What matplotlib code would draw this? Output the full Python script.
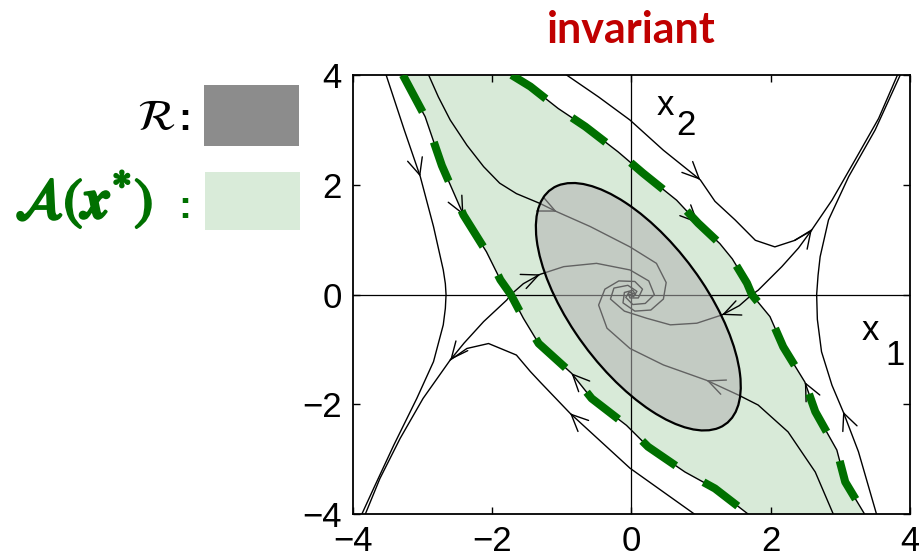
import numpy as np
import matplotlib
matplotlib.use('Agg')
import matplotlib.pyplot as plt
from matplotlib.patches import Ellipse, Rectangle
import matplotlib.patheffects as pe

plt.rcParams['font.family'] = ['Liberation Sans', 'DejaVu Sans']

# trajectories, ordered along the flow
L = [(-3.52, 4.0), (-3.26, 3.0), (-3.03, 2.15), (-2.84, 1.24), (-2.70, 0.45), (-2.67, 0.2), (-2.66, 0.0),
     (-2.67, -0.25), (-2.70, -0.55), (-2.84, -1.22), (-3.08, -1.89), (-3.41, -2.74), (-3.70, -3.53), (-3.87, -4.0)]
R = [(3.52, -4.0), (3.26, -2.86), (3.04, -2.13), (2.88, -1.65), (2.73, -1.04), (2.67, -0.45), (2.66, 0.0),
     (2.68, 0.35), (2.71, 0.69), (2.83, 1.36), (3.12, 2.15), (3.50, 3.0), (3.86, 4.0)]
U = [(-0.93, 4.0), (-0.47, 3.6), (-0.02, 3.18), (0.46, 2.63), (0.99, 2.09), (1.20, 1.70), (1.49, 1.36),
     (1.78, 0.99), (2.06, 0.87), (2.35, 0.99), (2.59, 1.18), (2.88, 1.72), (3.21, 2.45), (3.55, 3.21), (3.82, 4.0)]
U2 = [(0.91, -4.0), (-0.02, -3.16), (-0.88, -2.16), (-1.31, -1.59), (-1.45, -1.40), (-1.65, -1.10),
      (-2.05, -0.89), (-2.36, -0.98), (-2.60, -1.19), (-2.99, -1.89), (-3.32, -2.62), (-3.61, -3.35), (-3.82, -4.0)]
A = [(-2.91, 4.0), (-2.77, 3.6), (-2.60, 3.18), (-2.36, 2.72), (-2.12, 2.33), (-1.89, 2.03), (-1.65, 1.84),
     (-1.31, 1.66), (-1.07, 1.51), (-0.59, 1.24), (-0.02, 0.87), (0.36, 0.57), (0.50, 0.22), (0.46, -0.08),
     (0.28, -0.28), (0.05, -0.30), (-0.12, -0.15), (-0.10, 0.04), (0.02, 0.08), (0.06, 0.0), (0.0, -0.03)]
A2 = [(2.90, -4.0), (2.64, -3.23), (2.25, -2.50), (1.82, -2.01), (1.54, -1.83), (1.08, -1.56), (0.46, -1.28),
      (-0.02, -0.98), (-0.35, -0.61), (-0.47, -0.19), (-0.38, 0.10), (-0.18, 0.25), (0.05, 0.24), (0.16, 0.10),
      (0.10, -0.06), (-0.02, -0.06), (-0.04, 0.01), (0.0, 0.0)]
IL = [(-1.73, 0.0), (-1.55, 0.2), (-1.31, 0.37), (-0.97, 0.51), (-0.50, 0.57), (-0.02, 0.45), (0.25, 0.25),
      (0.33, 0.0), (0.20, -0.16), (0.02, -0.18), (-0.08, -0.05), (-0.03, 0.05), (0.03, 0.02), (0.0, 0.0)]
IR = [(1.73, 0.0), (1.55, -0.2), (1.30, -0.37), (0.94, -0.52), (0.56, -0.55), (0.22, -0.43), (-0.10, -0.30),
      (-0.30, -0.08), (-0.25, 0.12), (-0.05, 0.17), (0.08, 0.06), (0.03, -0.04), (0.0, 0.0)]
WL = [(-1.73, 0.0), (-1.79, -0.1), (-2.12, -0.49), (-2.40, -0.88), (-2.60, -1.19)]
WR = [(1.73, 0.0), (1.82, 0.08), (2.16, 0.51), (2.40, 0.85), (2.59, 1.18)]

# stable manifolds of the two saddles (boundary of the region of attraction)
SM1 = [(-3.28, 4.0), (-2.96, 3.24), (-2.72, 2.35), (-2.41, 1.45), (-2.08, 0.78), (-1.88, 0.27), (-1.73, 0.0)]
SM2 = [(3.35, -4.0), (3.07, -3.41), (2.95, -2.83), (2.64, -2.13), (2.49, -1.59), (2.18, -0.95), (1.99, -0.40), (1.73, 0.0)]
SM3 = [(-1.72, 4.0), (-1.45, 3.79), (-1.05, 3.39), (-0.66, 3.06), (-0.19, 2.60), (0.17, 2.21), (0.65, 1.72),
       (0.96, 1.30), (1.27, 0.93), (1.45, 0.65), (1.66, 0.21), (1.73, 0.0)]
SM4 = [(1.68, -4.0), (1.20, -3.53), (0.77, -3.23), (0.24, -2.77), (-0.07, -2.38), (-0.57, -1.89), (-0.86, -1.43),
       (-1.33, -0.89), (-1.55, -0.43), (-1.73, 0.0)]

curves = {'L': L, 'R': R, 'U': U, 'U2': U2, 'A': A, 'A2': A2, 'IL': IL, 'IR': IR, 'WL': WL, 'WR': WR,
          'SM1': SM1, 'SM2': SM2, 'SM3': SM3, 'SM4': SM4}

arrows = [('L', -3.03, 2.15), ('SM1', -2.41, 1.45), ('A', -1.07, 1.51), ('IL', -1.31, 0.37), ('U', 0.99, 2.09),
          ('SM3', 0.96, 1.30), ('WR', 2.59, 1.18), ('R', 3.04, -2.13), ('SM2', 2.49, -1.59), ('IR', 1.30, -0.37),
          ('A2', 1.08, -1.56), ('U2', -0.88, -2.16), ('SM4', -0.86, -1.43), ('WL', -2.60, -1.19)]

# Lyapunov ellipse estimate: centre, semi axes, angle (deg)
ell_center = (0.10, -0.22)
ell_axes = (2.49, 1.02)
ell_angle = -62.2

ticks = [-4, -2, 0, 2, 4]

green = '#007000'
fig = plt.figure(figsize=(9.19, 5.58), dpi=100)
ax = fig.add_axes([352.7 / 919, 1 - 514.3 / 558, (910 - 352.7) / 919, (514.3 - 75) / 558])

# region of attraction
sm1, sm2, sm3, sm4 = [np.array(c) for c in (SM1, SM2, SM3, SM4)]
region = np.vstack([sm1, sm4[::-1], sm2, sm3[::-1]])
ax.fill(region[:, 0], region[:, 1], color='#d8ead8', lw=0, zorder=1)

ax.axhline(0, color='k', lw=0.9, zorder=2)
ax.axvline(0, color='k', lw=0.9, zorder=2)

for name, c in curves.items():
    c = np.array(c)
    ax.plot(c[:, 0], c[:, 1], color='k', lw=1.0, zorder=3)

for name, x, y in arrows:
    c = np.array(curves[name])
    i = np.argmin(np.hypot(c[:, 0] - x, c[:, 1] - y))
    d = c[min(i + 1, len(c) - 1)] - c[max(i - 1, 0)]
    d = d / np.hypot(*d)
    ax.annotate('', xy=(x, y), xytext=(x - 0.05 * d[0], y - 0.05 * d[1]),
                arrowprops=dict(arrowstyle='->,head_length=1.2,head_width=0.55', color='k', lw=1.0,
                                shrinkA=0, shrinkB=0), zorder=3)

ax.add_patch(Ellipse(ell_center, 2 * ell_axes[0], 2 * ell_axes[1], angle=ell_angle,
                     facecolor=(0.70, 0.70, 0.70), alpha=0.55, edgecolor='none', zorder=4))
ax.add_patch(Ellipse(ell_center, 2 * ell_axes[0], 2 * ell_axes[1], angle=ell_angle,
                     fill=False, edgecolor='k', lw=1.6, zorder=5))

d1 = np.vstack([sm1, sm4[::-1][1:]])
d2 = np.vstack([sm3, sm2[::-1][1:]])
for d in (d1, d2):
    ax.plot(d[:, 0], d[:, 1], color=green, lw=5.8, linestyle=(0, (5.2, 4.0)), solid_capstyle='butt',
            dash_capstyle='butt', zorder=6)

ax.set_xlim(-4, 4)
ax.set_ylim(-4, 4)
ax.set_xticks(ticks)
ax.set_yticks(ticks)
ax.tick_params(direction='in', length=5, width=1, top=True, right=True, labelsize=25, pad=8)
for s in ax.spines.values():
    s.set_linewidth(1.3)

ax.text(0.36, 3.27, 'x', fontsize=25, zorder=7)
ax.text(0.65, 2.90, '2', fontsize=25, zorder=7)
ax.text(3.31, -0.83, 'x', fontsize=25, zorder=7)
ax.text(3.64, -1.28, '1', fontsize=25, zorder=7)

fig.text(631.3 / 919, 1 - 43 / 558, 'invariant', ha='center', va='baseline', color='#c00000',
         fontsize=31, fontweight='bold', family='Lato')

# legend on the left
fig.text(175 / 919, 1 - 130 / 558, r'$\mathcal{R}$', ha='right', va='baseline', fontsize=32,
         math_fontfamily='stix')
fig.text(178 / 919, 1 - 130 / 558, ':', ha='left', va='baseline', fontsize=28, fontweight='bold')
fig.add_artist(Rectangle((204 / 919, 1 - 146 / 558), 95 / 919, 61 / 558, transform=fig.transFigure,
                         color='#8c8c8c', lw=0))
fig.text(15 / 919, 1 - 218 / 558, r'$\mathcal{A}(\mathbfit{x}^{*})$', ha='left', va='baseline', fontsize=41,
         color=green, math_fontfamily='stix',
         path_effects=[pe.withStroke(linewidth=1.8, foreground=green)])
fig.text(178 / 919, 1 - 218 / 558, ':', ha='left', va='baseline', fontsize=28, fontweight='bold', color=green)
fig.add_artist(Rectangle((205 / 919, 1 - 230 / 558), 95 / 919, 58 / 558, transform=fig.transFigure,
                         color='#d9ebd9', lw=0))

fig.savefig('out.png', dpi=100)
